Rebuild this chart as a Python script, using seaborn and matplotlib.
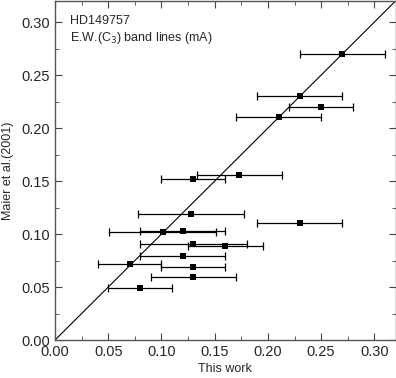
import numpy as np
import pandas as pd
import matplotlib
matplotlib.use("Agg")
import matplotlib.pyplot as plt
import seaborn as sns
from matplotlib.ticker import MultipleLocator

# equivalent widths, this work vs Maier et al. (2001)
this_work = [0.27, 0.23, 0.25, 0.21, 0.173, 0.13, 0.23, 0.128, 0.101, 0.12,
             0.13, 0.16, 0.12, 0.07, 0.13, 0.13, 0.08]
maier = [0.27, 0.23, 0.22, 0.21, 0.156, 0.152, 0.11, 0.119, 0.102, 0.103,
         0.091, 0.089, 0.079, 0.072, 0.069, 0.059, 0.049]
xerr = [0.04, 0.04, 0.03, 0.04, 0.04, 0.03, 0.04, 0.05, 0.05, 0.04,
        0.05, 0.035, 0.04, 0.03, 0.03, 0.04, 0.03]

df = pd.DataFrame({"this_work": this_work, "maier": maier, "xerr": xerr})
diag = pd.DataFrame({"x": [0.0, 0.32], "y": [0.0, 0.32]})

sns.set_style("ticks")
plt.rcParams["font.family"] = ["Liberation Sans", "DejaVu Sans"]

fig = plt.figure(figsize=(3.96, 3.78), dpi=100)
ax = fig.add_axes([0.139, 0.1005, 0.86, 0.897])

sns.lineplot(data=diag, x="x", y="y", color="black", lw=0.8, ax=ax)
ax.errorbar(df["this_work"], df["maier"], xerr=df["xerr"], fmt="none",
            ecolor="black", elinewidth=0.9, capsize=3, capthick=0.9)
sns.scatterplot(data=df, x="this_work", y="maier", marker="s", s=24,
                color="black", edgecolor="black", linewidth=0, ax=ax, zorder=5)

ax.set_xlim(0, 0.32)
ax.set_ylim(0, 0.32)
ax.xaxis.set_major_locator(MultipleLocator(0.05))
ax.yaxis.set_major_locator(MultipleLocator(0.05))
ax.xaxis.set_minor_locator(MultipleLocator(0.025))
ax.yaxis.set_minor_locator(MultipleLocator(0.025))
ax.xaxis.set_major_formatter(plt.FormatStrFormatter("%.2f"))
ax.yaxis.set_major_formatter(plt.FormatStrFormatter("%.2f"))
ax.tick_params(which="both", direction="in", top=True, right=True,
               labelsize=10.5, color="#444444")
ax.tick_params(which="major", length=5)
ax.tick_params(which="minor", length=3)
for s in ax.spines.values():
    s.set_color("#555555")
    s.set_linewidth(1)

ax.set_xlabel("This work", fontsize=9, labelpad=3)
ax.set_ylabel("Maier et al.(2001)", fontsize=9, labelpad=5)

ax.text(0.045, 0.94, "HD149757", transform=ax.transAxes, fontsize=9, va="center")
ax.text(0.045, 0.89, "E.W.(C$_3$) band lines (mA)", transform=ax.transAxes,
        fontsize=9, va="center")

fig.savefig("out.png", dpi=100)
